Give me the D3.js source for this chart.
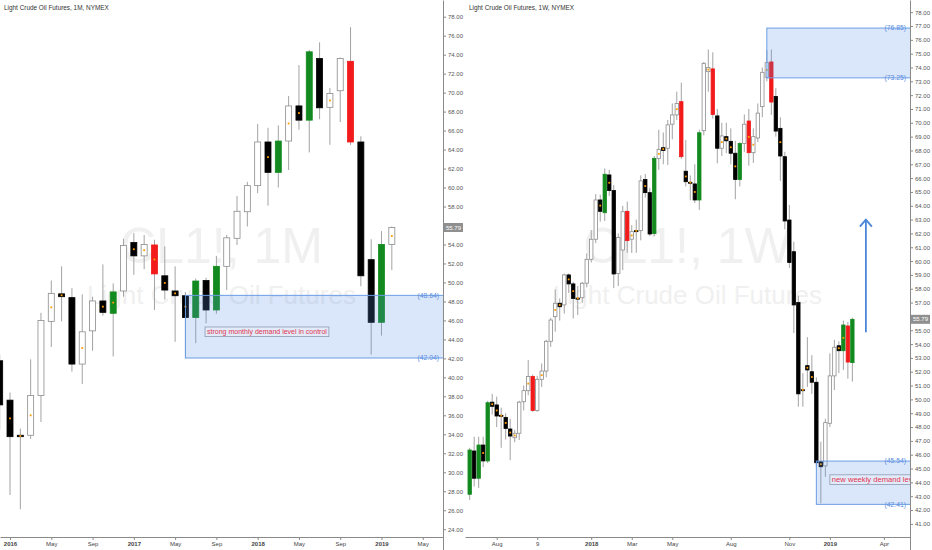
<!DOCTYPE html>
<html>
<head>
<meta charset="utf-8">
<script src="https://cdn.jsdelivr.net/npm/d3@7"></script>
<style>
  body { margin: 0; background: #fff; }
  text { font-family: "Liberation Sans", Arial, sans-serif; }
</style>
</head>
<body>
<script>

// ---- monthly candles, Dec 2015 .. Feb 2019 ----
const mMonths = ["2015-12","2016-01","2016-02","2016-03","2016-04","2016-05","2016-06","2016-07","2016-08","2016-09","2016-10","2016-11","2016-12",
  "2017-01","2017-02","2017-03","2017-04","2017-05","2017-06","2017-07","2017-08","2017-09","2017-10","2017-11","2017-12",
  "2018-01","2018-02","2018-03","2018-04","2018-05","2018-06","2018-07","2018-08","2018-09","2018-10","2018-11","2018-12",
  "2019-01","2019-02"];
const mOpen  = [41.75,37.6,33.9,33.9,38.1,45.9,48.8,48.4,41.4,44.9,48.05,46.75,49.1,54.2,52.8,53.95,50.7,49.1,48.6,46.3,50.2,47.1,51.7,54.65,57.45,60.2,64.8,61.6,64.9,68.6,67.1,73.6,68.45,70.2,73.3,64.8,52.4,45.8,54.0];
const mHigh  = [42.4,38.4,34.6,41.9,46.8,50.2,51.7,49.4,48.75,48.5,51.9,49.9,54.6,55.2,55.0,54.5,53.8,51.7,49.0,50.4,50.5,52.8,55.0,59.1,60.6,66.7,66.3,66.55,69.65,72.9,74.5,75.3,70.5,73.7,76.9,65.4,54.55,55.4,55.9];
const mLow   = [34.5,27.6,26.1,33.5,35.3,43.2,45.9,40.6,39.3,42.8,46.5,42.2,48.5,50.8,51.4,47.1,48.2,43.75,42.0,43.6,45.7,46.7,49.2,53.95,55.9,59.4,58.1,60.0,61.85,66.1,63.7,67.2,64.5,66.9,64.5,49.6,42.4,44.4,51.3];
const mClose = [37.1,33.75,33.75,38.1,46.0,48.85,48.5,41.4,44.8,48.05,46.85,49.0,53.9,52.8,54.0,50.9,49.2,48.6,46.3,50.15,47.1,51.7,54.7,57.5,60.2,64.8,61.6,64.9,68.6,67.1,74.3,68.4,69.9,73.6,64.8,50.7,45.8,54.0,55.79];
const mType  = "bbbwwwbbwwbgwbwrbbbgbgwwwwbgwbgbwwrbbgw".split("");   // w hollow, b black, g green, r red
const mDots  = [1,2,3,5,6,8,10,11,13,14,15,16,17,18,26,28,29,32,38];

// ---- weekly candles, week of 26 Jun 2017 .. week of 11 Feb 2019 ----
const wOpen  = [43.14,46.27,44.3,46.7,45.55,49.8,49.6,48.85,48.7,47.86,47.23,47.55,49.83,50.63,51.65,49.2,51.45,52.05,54.2,55.98,
  56.95,56.83,59.0,58.35,57.32,57.35,58.4,60.13,61.58,64.42,63.5,66.23,65.1,59.1,60.8,63.6,61.58,62.18,62.2,65.9,
  64.95,62.0,67.43,68.2,68.16,69.9,70.57,71.53,66.5,65.7,65.58,64.42,69.43,73.7,73.9,70.5,68.16,69.0,68.66,67.8,
  65.9,68.5,70.13,67.84,68.9,71.17,73.29,74.4,71.9,69.6,67.55,62.97,60.68,57.0,50.7,52.44,52.0,51.24,45.5,45.19,
  48.27,51.7,53.88,53.52,55.31,52.66];
const wHigh  = [46.5,47.3,47.3,47.3,49.9,50.4,50.2,49.4,49.0,48.6,47.8,49.9,51.0,52.85,51.8,51.7,52.6,54.3,55.9,57.96,
  57.3,59.1,59.1,58.5,58.2,58.5,60.56,62.25,64.85,64.8,66.7,66.6,65.5,62.0,64.0,64.3,62.6,63.0,66.2,66.3,
  65.3,67.6,69.5,69.3,70.2,71.4,72.25,72.9,68.76,66.2,67.0,69.5,74.4,75.3,75.1,71.0,70.0,70.0,69.6,68.7,
  68.6,70.6,71.0,69.6,71.4,74.0,75.26,75.3,72.5,70.4,67.9,64.06,61.4,57.5,51.9,54.5,53.2,51.6,46.94,48.6,
  53.33,54.3,54.2,55.7,55.6,55.9];
const wLow   = [42.73,43.7,43.6,45.1,45.4,48.9,48.0,46.5,47.1,45.6,46.9,47.06,49.2,50.3,49.1,49.1,50.9,51.6,53.8,54.9,
  55.7,56.2,57.7,55.85,56.1,57.0,58.1,59.9,61.3,62.85,62.9,64.7,58.05,58.2,59.35,60.6,60.6,60.6,61.5,64.6,
  61.8,61.8,66.6,67.0,66.95,68.8,70.2,67.4,65.4,64.4,64.2,63.7,69.1,72.25,70.3,67.07,67.6,67.8,67.0,64.47,
  65.4,67.9,66.9,67.1,68.6,70.4,73.0,70.57,69.0,65.8,62.3,59.5,54.8,49.47,49.47,50.9,50.4,45.1,42.49,44.4,
  48.0,50.68,51.9,52.13,51.5,51.28];
const wClose = [46.34,44.3,46.7,45.55,49.76,49.5,48.8,48.8,47.9,47.35,47.55,49.8,50.63,51.65,49.2,51.45,52.05,54.2,55.74,56.95,
  56.7,59.0,58.35,57.3,57.3,58.4,60.13,61.58,64.42,63.6,66.28,65.1,59.07,61.7,63.57,61.48,62.13,62.2,65.8,64.95,
  61.96,67.43,68.08,68.0,69.85,70.57,71.4,67.55,65.74,65.67,64.42,69.28,74.3,74.0,70.6,68.16,69.05,68.7,67.8,65.9,
  68.5,69.9,67.84,69.0,70.7,73.65,74.35,71.5,69.4,67.6,62.9,59.9,56.83,50.4,50.68,52.13,51.24,45.42,45.13,48.32,
  51.7,53.77,53.52,55.38,52.7,55.79];
const wType  = "gbgbgbbbbbwwwwrwwwwwbwbbbwwwwbgbbwwrwbwbbgwbwwwrbbbgwwrbwbbbgwrwwwwrbbbbbbbbbbbwwwbgrg".split("");
const wDots  = [3,5,6,7,8,9,10,13,16,19,20,22,23,24,29,31,36,37,39,42,43,46,48,49,50,53,56,57,58,59,62,63,66,69,74,75,76,78,82,83];

// ---- axes ----
const leftPriceTicks  = [24,26,28,30,32,34,36,38,40,42,44,46,48,50,52,54,56,58,60,62,64,66,68,70,72,74,76,78];
const rightPriceTicks = [41,42,43,44,45,46,47,48,49,50,51,52,53,54,55,56,57,58,59,60,61,62,63,64,65,66,67,68,69,70,71,72,73,74,75,76,77,78];
const leftTimeTicks   = [0,4,8,12,16,20,24,28,32,36,40];           // months since Jan 2016
const leftTimeLabels  = ["2016","May","Sep","2017","May","Sep","2018","May","Sep","2019","May"];
const rightTimeTicks  = [6,15,27,36,45,58,71,80,92];                // weeks since 26 Jun 2017
const rightTimeLabels = ["Aug","9","2018","Mar","May","Aug","Nov","2019","Apr"];

// ---- drawings ----
const lastPrice = 55.79;
const leftZone  = {from: 17, top: 48.64, bottom: 42.04};
const rightZone1 = {from: 66, top: 76.85, bottom: 73.25};
const rightZone2 = {from: 77, top: 45.54, bottom: 42.41};
const leftNote  = {at: 18.9, price: 44.8, text: "strong monthly demand level in control"};
const rightNote = {at: 80.0, price: 44.2, text: "new weekly demand level"};
const arrow = {at: 88, from: 54.85, to: 63.0};


const width = 932, height = 550, plotBottom = 537;

const svg = d3.select('body').append('svg')
  .attr('width', width)
  .attr('height', height);

const monthIndex = s => (+s.slice(0, 4) - 2016) * 12 + (+s.slice(5, 7) - 1);

const monthly = mMonths.map((m, i) => ({
  i: monthIndex(m), o: mOpen[i], h: mHigh[i], l: mLow[i], c: mClose[i], t: mType[i], dot: mDots.includes(i)
}));
const weekly = wOpen.map((o, i) => ({
  i: i, o: o, h: wHigh[i], l: wLow[i], c: wClose[i], t: wType[i], dot: wDots.includes(i)
}));

const xL = d3.scaleLinear().domain([-0.97, 41.96]).range([0, 443]);
const yL = d3.scaleLinear().domain([79.76, 23.18]).range([0, plotBottom]);
const xR = d3.scaleLinear().domain([-1.04, 97.8]).range([465, 910]);
const yR = d3.scaleLinear().domain([78.88, 40.05]).range([0, plotBottom]);

const fills   = {w: '#ffffff', b: '#000000', g: '#138a1f', r: '#f21a1a'};
const strokes = {w: '#8c8c8c', b: '#000000', g: '#138a1f', r: '#f21a1a'};

function panel(p) {
  const x0 = p.x.range()[0], x1 = p.x.range()[1];
  const cx = (x0 + x1) / 2;

  svg.append('clipPath').attr('id', p.id)
    .append('rect').attr('x', x0).attr('y', 0).attr('width', x1 - x0).attr('height', plotBottom);

  const g = svg.append('g').attr('clip-path', `url(#${p.id})`);

  // watermark
  g.append('text').attr('x', cx).attr('y', 263)
    .attr('text-anchor', 'middle').attr('font-size', 50).attr('fill', '#f0f0f0')
    .text(p.mark);
  g.append('text').attr('x', cx).attr('y', 304)
    .attr('text-anchor', 'middle').attr('font-size', 26).attr('fill', '#f0f0f0')
    .text('Light Crude Oil Futures');

  // candles
  const c = g.selectAll('g.candle').data(p.data).enter().append('g');
  c.append('line')
    .attr('x1', d => p.x(d.i)).attr('x2', d => p.x(d.i))
    .attr('y1', d => p.y(d.h)).attr('y2', d => p.y(d.l))
    .attr('stroke', '#a3a3a3').attr('stroke-width', 1);
  c.append('rect')
    .attr('x', d => p.x(d.i) - p.bw / 2)
    .attr('y', d => p.y(Math.max(d.o, d.c)))
    .attr('width', p.bw)
    .attr('height', d => Math.max(1, p.y(Math.min(d.o, d.c)) - p.y(Math.max(d.o, d.c))))
    .attr('fill', d => fills[d.t])
    .attr('stroke', d => strokes[d.t])
    .attr('stroke-width', 0.8);
  c.filter(d => d.dot).append('rect')
    .attr('x', d => p.x(d.i) - 0.9)
    .attr('y', d => p.y((d.o + d.c) / 2) - 0.9)
    .attr('width', 1.8).attr('height', 1.8)
    .attr('fill', '#ff9c00');

  // zones
  p.zones.forEach(z => {
    g.append('rect')
      .attr('x', p.x(z.from)).attr('y', p.y(z.top))
      .attr('width', x1 - p.x(z.from) + 2)
      .attr('height', p.y(z.bottom) - p.y(z.top))
      .attr('fill', 'rgba(86,140,228,0.22)')
      .attr('stroke', '#6c9de6').attr('stroke-width', 1);
    [z.top, z.bottom].forEach(v => {
      g.append('text').attr('x', x1 - 4).attr('y', p.y(v))
        .attr('dy', '0.35em').attr('text-anchor', 'end')
        .attr('font-size', 6.8).attr('fill', '#5a8ee0')
        .text(`(${v.toFixed(2)})`);
    });
  });

  // note
  const n = p.note;
  const nb = g.append('rect');
  const nt = g.append('text')
    .attr('x', p.x(n.at) + 2).attr('y', p.y(n.price))
    .attr('dy', '0.35em')
    .attr('font-size', p.noteSize).attr('fill', '#e2334f')
    .text(n.text);
  const len = nt.node().getComputedTextLength();
  nb.attr('x', p.x(n.at)).attr('y', p.y(n.price) - 4.8)
    .attr('width', len + 4).attr('height', 9.6)
    .attr('fill', 'rgba(255,255,255,0.2)')
    .attr('stroke', '#8e9ab2').attr('stroke-width', 0.8);

  // title
  svg.append('text').attr('x', x0 + 4).attr('y', 10)
    .attr('font-size', 6.4).attr('fill', '#333')
    .text(p.title);

  // price axis (labels under the last-price tag are hidden, as on the chart)
  const ly = p.y(lastPrice);
  const ya = svg.append('g').attr('transform', `translate(${x1},0)`)
    .call(d3.axisRight(p.y).tickValues(p.priceTicks).tickFormat(d3.format('.2f'))
      .tickSize(3).tickSizeOuter(0).tickPadding(2));
  ya.select('.domain').attr('stroke', '#8a8a8a');
  ya.selectAll('.tick line').attr('stroke', '#8a8a8a');
  ya.selectAll('.tick text').attr('font-size', 6).attr('fill', '#555').attr('font-family', null);
  ya.selectAll('.tick').filter(d => Math.abs(p.y(d) - ly) < 8).select('text').remove();
  svg.append('line').attr('x1', x1 + 0.5).attr('x2', x1 + 0.5)
    .attr('y1', plotBottom).attr('y2', height).attr('stroke', '#8a8a8a');

  // time axis
  const xa = svg.append('g').attr('transform', `translate(0,${plotBottom})`)
    .call(d3.axisBottom(p.x).tickValues(p.timeTicks).tickFormat((d, i) => p.timeLabels[i])
      .tickSize(3).tickSizeOuter(0).tickPadding(2));
  xa.select('.domain').attr('stroke', '#8a8a8a');
  xa.selectAll('.tick line').attr('stroke', '#8a8a8a');
  xa.selectAll('.tick text').attr('font-size', 6).attr('fill', '#444').attr('font-family', null)
    .attr('font-weight', (d, i) => /^\d{4}$/.test(p.timeLabels[i]) ? 'bold' : 'normal');

  // last price
  svg.append('rect').attr('x', x1 + 1).attr('y', ly - 4.5)
    .attr('width', 19).attr('height', 9).attr('fill', '#8f8f8f');
  svg.append('text').attr('x', x1 + 10.5).attr('y', ly).attr('dy', '0.35em')
    .attr('text-anchor', 'middle').attr('font-size', 6).attr('fill', '#fff')
    .text(lastPrice.toFixed(2));

  return g;
}

panel({
  id: 'clipL', x: xL, y: yL, data: monthly, bw: 6,
  mark: 'CL1!, 1M', title: 'Light Crude Oil Futures, 1M, NYMEX',
  zones: [leftZone], note: leftNote, noteSize: 7,
  priceTicks: leftPriceTicks, timeTicks: leftTimeTicks, timeLabels: leftTimeLabels
});

const gR = panel({
  id: 'clipR', x: xR, y: yR, data: weekly, bw: 3.4,
  mark: 'CL1!, 1W', title: 'Light Crude Oil Futures, 1W, NYMEX',
  zones: [rightZone1, rightZone2], note: rightNote, noteSize: 7.6,
  priceTicks: rightPriceTicks, timeTicks: rightTimeTicks, timeLabels: rightTimeLabels
});

// arrow
const ax = xR(arrow.at), ayTop = yR(arrow.to), ayBot = yR(arrow.from);
gR.append('line').attr('x1', ax).attr('x2', ax).attr('y1', ayBot).attr('y2', ayTop)
  .attr('stroke', '#4a86d8').attr('stroke-width', 1.8);
gR.append('path')
  .attr('d', `M${ax - 6},${ayTop + 7}L${ax},${ayTop}L${ax + 6},${ayTop + 7}`)
  .attr('fill', 'none').attr('stroke', '#4a86d8').attr('stroke-width', 1.8);

</script>
</body>
</html>
